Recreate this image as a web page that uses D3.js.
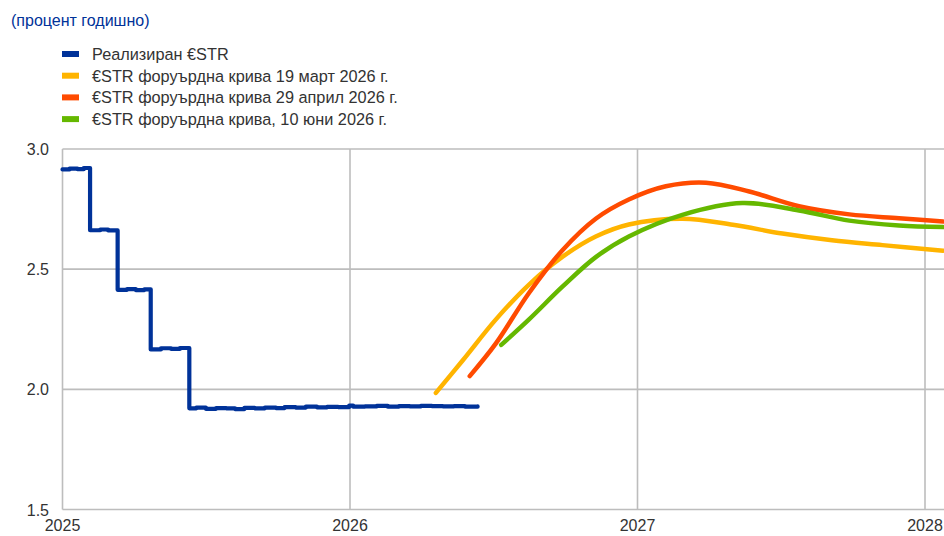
<!DOCTYPE html>
<html>
<head>
<meta charset="utf-8">
<script src="https://cdn.jsdelivr.net/npm/d3@7"></script>
<style>
	body { margin: 0; background: #fff; }
	svg { display: block; font-family: "Liberation Sans", Arial, sans-serif; }
</style>
</head>
<body>
<div id="chart"></div>
<script>
// realised €STR (dates and values)
const realisedDates = ["2025-01-01","2025-01-10","2025-01-20","2025-01-28","2025-02-05","2025-02-18","2025-02-28","2025-03-12","2025-03-24","2025-04-04","2025-04-15","2025-04-23","2025-05-06","2025-05-19","2025-05-30","2025-06-11","2025-06-20","2025-07-02","2025-07-15","2025-07-28","2025-08-08","2025-08-20","2025-09-02","2025-09-15","2025-09-29","2025-10-10","2025-10-24","2025-11-06","2025-11-20","2025-12-03","2025-12-17","2025-12-31","2026-01-05","2026-01-20","2026-02-04","2026-02-18","2026-03-04","2026-03-18","2026-04-01","2026-04-15","2026-04-29","2026-05-13","2026-05-27","2026-06-12"];
const realisedValues = [2.915,2.918,2.916,2.921,2.662,2.665,2.661,2.414,2.417,2.413,2.416,2.166,2.171,2.168,2.172,1.921,1.924,1.919,1.922,1.921,1.918,1.923,1.921,1.924,1.922,1.926,1.924,1.928,1.925,1.927,1.926,1.932,1.928,1.929,1.931,1.928,1.930,1.929,1.931,1.930,1.929,1.930,1.928,1.929];

// forward curve, 19 March 2026
const fwdMarDates = ["2026-04-20","2026-05-24","2026-07-05","2026-08-16","2026-09-28","2026-11-09","2026-12-21","2027-02-27","2027-05-02","2027-07-04","2027-09-05","2027-11-08","2028-01-24"];
const fwdMarValues = [1.985,2.12,2.29,2.435,2.552,2.636,2.686,2.71,2.685,2.648,2.62,2.60,2.577];

// forward curve, 29 April 2026
const fwdAprDates = ["2026-06-02","2026-07-05","2026-08-16","2026-09-28","2026-11-09","2026-12-21","2027-02-06","2027-03-29","2027-05-23","2027-07-25","2027-09-27","2027-11-29","2028-01-24"];
const fwdAprValues = [2.055,2.19,2.40,2.58,2.71,2.79,2.845,2.86,2.823,2.762,2.728,2.712,2.698];

// forward curve, 10 June 2026
const fwdJunDates = ["2026-07-12","2026-08-16","2026-09-28","2026-11-09","2026-12-21","2027-02-27","2027-05-14","2027-07-25","2027-09-27","2027-11-29","2028-01-24"];
const fwdJunValues = [2.185,2.29,2.428,2.55,2.636,2.726,2.775,2.744,2.702,2.682,2.675];

const yTicks = [1.5, 2.0, 2.5, 3.0];
const xTicks = ["2025-01-01","2026-01-01","2027-01-01","2028-01-01"];

const legendLabels = ["Реализиран €STR","€STR форуърдна крива 19 март 2026 г.","€STR форуърдна крива 29 април 2026 г.","€STR форуърдна крива, 10 юни 2026 г."];
const colors = ["#003299","#ffb400","#ff4b00","#65b800"];

const width = 944, height = 536;
const parse = d3.timeParse("%Y-%m-%d");

const x = d3.scaleTime()
	.domain([parse("2025-01-01"), parse("2028-01-01")])
	.range([62.5, 925]);
const y = d3.scaleLinear()
	.domain([1.5, 3.0])
	.range([509.5, 149]);

const svg = d3.select("#chart").append("svg")
	.attr("width", width)
	.attr("height", height);

// title
svg.append("text")
	.attr("x", 11).attr("y", 26)
	.attr("fill", "#003299")
	.style("font-size", "16px")
	.text("(процент годишно)");

// legend
const legend = svg.append("g");
legendLabels.forEach((label, i) => {
	const ly = 54 + i * 21.7;
	legend.append("rect")
		.attr("x", 62).attr("y", ly - 3)
		.attr("width", 17).attr("height", 6)
		.attr("fill", colors[i]);
	legend.append("text")
		.attr("x", 92).attr("y", ly + 6)
		.attr("fill", "#333")
		.style("font-size", "16.3px")
		.text(label);
});

// grid
const grid = svg.append("g").attr("stroke", "#bdbdbd").attr("stroke-width", 1.6);
yTicks.forEach(t => {
	grid.append("line")
		.attr("x1", x.range()[0]).attr("x2", width)
		.attr("y1", y(t)).attr("y2", y(t));
});
xTicks.forEach(t => {
	grid.append("line")
		.attr("x1", x(parse(t))).attr("x2", x(parse(t)))
		.attr("y1", y(3.0)).attr("y2", y(1.5));
});

// tick labels
svg.append("g").selectAll("text")
	.data(yTicks)
	.enter().append("text")
	.attr("x", 49)
	.attr("y", d => y(d) + 6)
	.attr("text-anchor", "end")
	.attr("fill", "#333")
	.style("font-size", "16px")
	.text(d => d.toFixed(1));

svg.append("g").selectAll("text")
	.data(xTicks)
	.enter().append("text")
	.attr("x", d => x(parse(d)))
	.attr("y", 531)
	.attr("text-anchor", "middle")
	.attr("fill", "#333")
	.style("font-size", "16px")
	.text(d => d.slice(0, 4));

// lines
function series(dates, values) {
	return dates.map((d, i) => ({ date: parse(d), value: values[i] }));
}

const stepLine = d3.line()
	.x(d => x(d.date))
	.y(d => y(d.value))
	.curve(d3.curveStepAfter);

const smoothLine = d3.line()
	.x(d => x(d.date))
	.y(d => y(d.value))
	.curve(d3.curveCatmullRom.alpha(0.5));

svg.append("path")
	.datum(series(realisedDates, realisedValues))
	.attr("d", stepLine)
	.attr("fill", "none")
	.attr("stroke", colors[0])
	.attr("stroke-width", 4.2)
	.attr("stroke-linejoin", "round")
	.attr("stroke-linecap", "round");

[[fwdMarDates, fwdMarValues], [fwdAprDates, fwdAprValues], [fwdJunDates, fwdJunValues]].forEach((s, i) => {
	svg.append("path")
		.datum(series(s[0], s[1]))
		.attr("d", smoothLine)
		.attr("fill", "none")
		.attr("stroke", colors[i + 1])
		.attr("stroke-width", 4.5)
		.attr("stroke-linecap", "round");
});
</script>
</body>
</html>
